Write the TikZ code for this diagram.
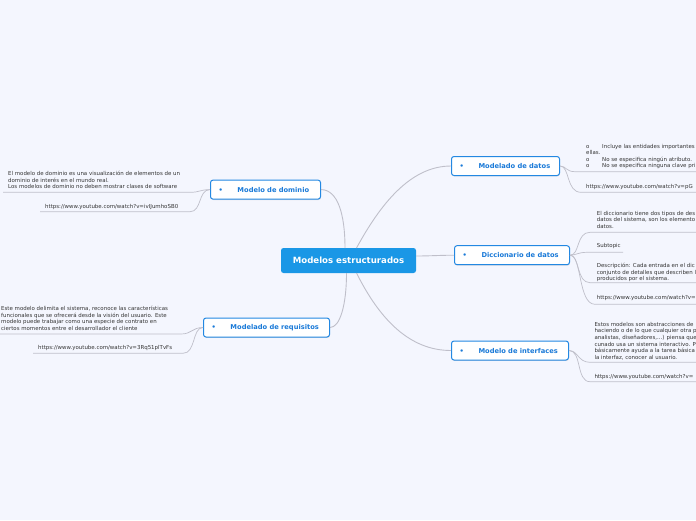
\documentclass[tikz,border=0pt]{standalone}
\usepackage{fontspec}
\setmainfont{DejaVu Sans}
\usetikzlibrary{shadows}
\definecolor{bgc}{HTML}{F4F6FE}
\definecolor{centc}{HTML}{1A97E6}
\definecolor{brc}{HTML}{2388E2}
\definecolor{brt}{HTML}{1A7AD8}
\definecolor{leaft}{HTML}{333333}
\definecolor{linec}{HTML}{BFBFCA}
\tikzset{
  central/.style={fill=centc, text=white, rounded corners=2.5pt, minimum width=135pt, minimum height=25pt, inner sep=0pt, font=\fontsize{8.6}{10}\selectfont\bfseries},
  branch/.style={draw=brc, line width=1pt, fill=white, rounded corners=2.5pt, minimum height=19pt, inner ysep=0pt, inner xsep=8pt, align=left, text=brt, font=\fontsize{6.7}{8}\selectfont\bfseries, drop shadow={opacity=0.25, shadow xshift=0.4pt, shadow yshift=-0.9pt}},
  leaf/.style={anchor=north west, inner sep=0pt, align=left, text=leaft, font=\fontsize{5.45}{6.6}\selectfont},
  conn/.style={draw=linec, line width=0.9pt},
  uline/.style={draw=linec, line width=0.7pt}
}
\newcommand{\bul}[1]{\makebox[19pt][l]{•}#1}
\newcommand{\obul}{\makebox[16pt][l]{o}}
\begin{document}
\begin{tikzpicture}[x=1pt,y=-1pt]
\useasboundingbox (0,0) rectangle (696,520);
\fill[bgc] (0,0) rectangle (696,520);

% central
\node[central] (c) at (348.5,260.5) {Modelos estructurados};

% branches
\node[branch, anchor=west, text width=94pt] (dom) at (210,189.6) {\bul{Modelo de dominio}};
\node[branch, anchor=west, text width=110pt] (req) at (203,327.5) {\bul{Modelado de requisitos}};
\node[branch, anchor=west, text width=92pt] (dat) at (451,166) {\bul{Modelado de datos}};
\node[branch, anchor=west, text width=99pt] (dic) at (454,255.2) {\bul{Diccionario de datos}};
\node[branch, anchor=west, text width=101pt] (int) at (451,350.5) {\bul{Modelo de interfaces}};

% central connectors
\coordinate (c1) at (345,248);
\coordinate (c2) at (356.5,248);
\coordinate (c3) at (346.5,273);
\coordinate (c4) at (356.5,273);
\draw[conn] (c1) .. controls (345,215) and (338,189.6) .. (dom.east);
\draw[conn] (c2) .. controls (380,205) and (410,166) .. (dat.west);
\draw[conn] (c.east |- 0,256) .. controls (430,256) and (440,255.2) .. (dic.west);
\draw[conn] (c3) .. controls (346.5,305) and (340,327.5) .. (req.east);
\draw[conn] (c4) .. controls (380,320) and (410,350.5) .. (int.west);

% ---- dominio leaves
\node[leaf] (dl1) at (8,171) {El modelo de dominio es una visualización de elementos de un\\dominio de interés en el mundo real.\\Los modelos de dominio no deben mostrar clases de software};
\node[leaf] (dl2) at (45,204) {https://www.youtube.com/watch?v=ivIJumhoSB0};
\coordinate (dl1a) at (3,192.3); \coordinate (dl1b) at (190,192.3);
\coordinate (dl2a) at (40,211.7); \coordinate (dl2b) at (190,211.7);
\draw[uline] (dl1a) -- (dl1b) .. controls (200,192.3) and (200,189.6) .. (dom.west);
\draw[uline] (dl2a) -- (dl2b) .. controls (202,211.7) and (198,189.6) .. (dom.west);

% ---- requisitos leaves
\node[leaf] (rl1) at (1,306) {Este modelo delimita el sistema, reconoce las características\\funcionales que se ofrecerá desde la visión del usuario. Este\\modelo puede trabajar como una especie de contrato en\\ciertos momentos entre el desarrollador el cliente};
\node[leaf] (rl2) at (38,344.7) {https://www.youtube.com/watch?v=3Rq51plTvFs};
\coordinate (rl1a) at (0,334); \coordinate (rl1b) at (181,334);
\coordinate (rl2a) at (33,353.3); \coordinate (rl2b) at (183,353.3);
\draw[uline] (rl1a) -- (rl1b) .. controls (192,334) and (192,327.5) .. (req.west);
\draw[uline] (rl2a) -- (rl2b) .. controls (196,353.3) and (192,327.5) .. (req.west);

% ---- datos leaves
\node[leaf] (al1) at (586,143.8) {\obul Incluye las entidades importantes\\ellas.\\\obul No se especifica ningún atributo.\\\obul No se especifica ninguna clave pri};
\node[leaf] (al2) at (586,184) {https://www.youtube.com/watch?v=pG};
\coordinate (al1a) at (575,171.7); \coordinate (al1b) at (696,171.7);
\coordinate (al2a) at (581,192.3); \coordinate (al2b) at (696,192.3);
\draw[uline] (dat.east) .. controls (566,166) and (566,171.7) .. (al1a) -- (al1b);
\draw[uline] (dat.east) .. controls (570,166) and (566,192.3) .. (al2a) -- (al2b);

% ---- diccionario leaves
\node[leaf] (il1) at (596.7,210.7) {El diccionario tiene dos tipos de des\\datos del sistema, son los elemento\\datos.};
\node[leaf] (il2) at (596.7,243) {Subtopic};
\node[leaf] (il3) at (596.7,263) {Descripción: Cada entrada en el dic\\conjunto de detalles que describen l\\producidos por el sistema.};
\node[leaf] (il4) at (596.7,295.3) {https://www.youtube.com/watch?v=};
\coordinate (il1a) at (590,232.3); \coordinate (il1b) at (696,232.3);
\coordinate (il2a) at (587,252.3); \coordinate (il2b) at (623,252.3);
\coordinate (il3a) at (590,282.7); \coordinate (il3b) at (696,282.7);
\coordinate (il4a) at (595,304.3); \coordinate (il4b) at (696,304.3);
\draw[uline] (dic.east) .. controls (580,255.2) and (576,232.3) .. (il1a) -- (il1b);
\draw[uline] (dic.east) .. controls (576,255.2) and (578,252.3) .. (il2a) -- (il2b);
\draw[uline] (dic.east) .. controls (580,255.2) and (576,282.7) .. (il3a) -- (il3b);
\draw[uline] (dic.east) .. controls (582,255.2) and (578,304.3) .. (il4a) -- (il4b);

% ---- interfaces leaves
\node[leaf] (nl1) at (594.3,322) {Estos modelos son abstracciones de\\haciendo o de lo que cualquier otra p\\analistas, diseñadores,...) piensa que\\cunado usa un sistema interactivo. P\\básicamente ayuda a la tarea básica\\la interfaz, conocer al usuario.};
\node[leaf] (nl2) at (594.3,373.7) {https://www.youtube.com/watch?v=};
\coordinate (nl1a) at (590,362.3); \coordinate (nl1b) at (696,362.3);
\coordinate (nl2a) at (590,381.7); \coordinate (nl2b) at (696,381.7);
\draw[uline] (int.east) .. controls (578,350.5) and (578,362.3) .. (nl1a) -- (nl1b);
\draw[uline] (int.east) .. controls (582,350.5) and (576,381.7) .. (nl2a) -- (nl2b);
\end{tikzpicture}
\end{document}
